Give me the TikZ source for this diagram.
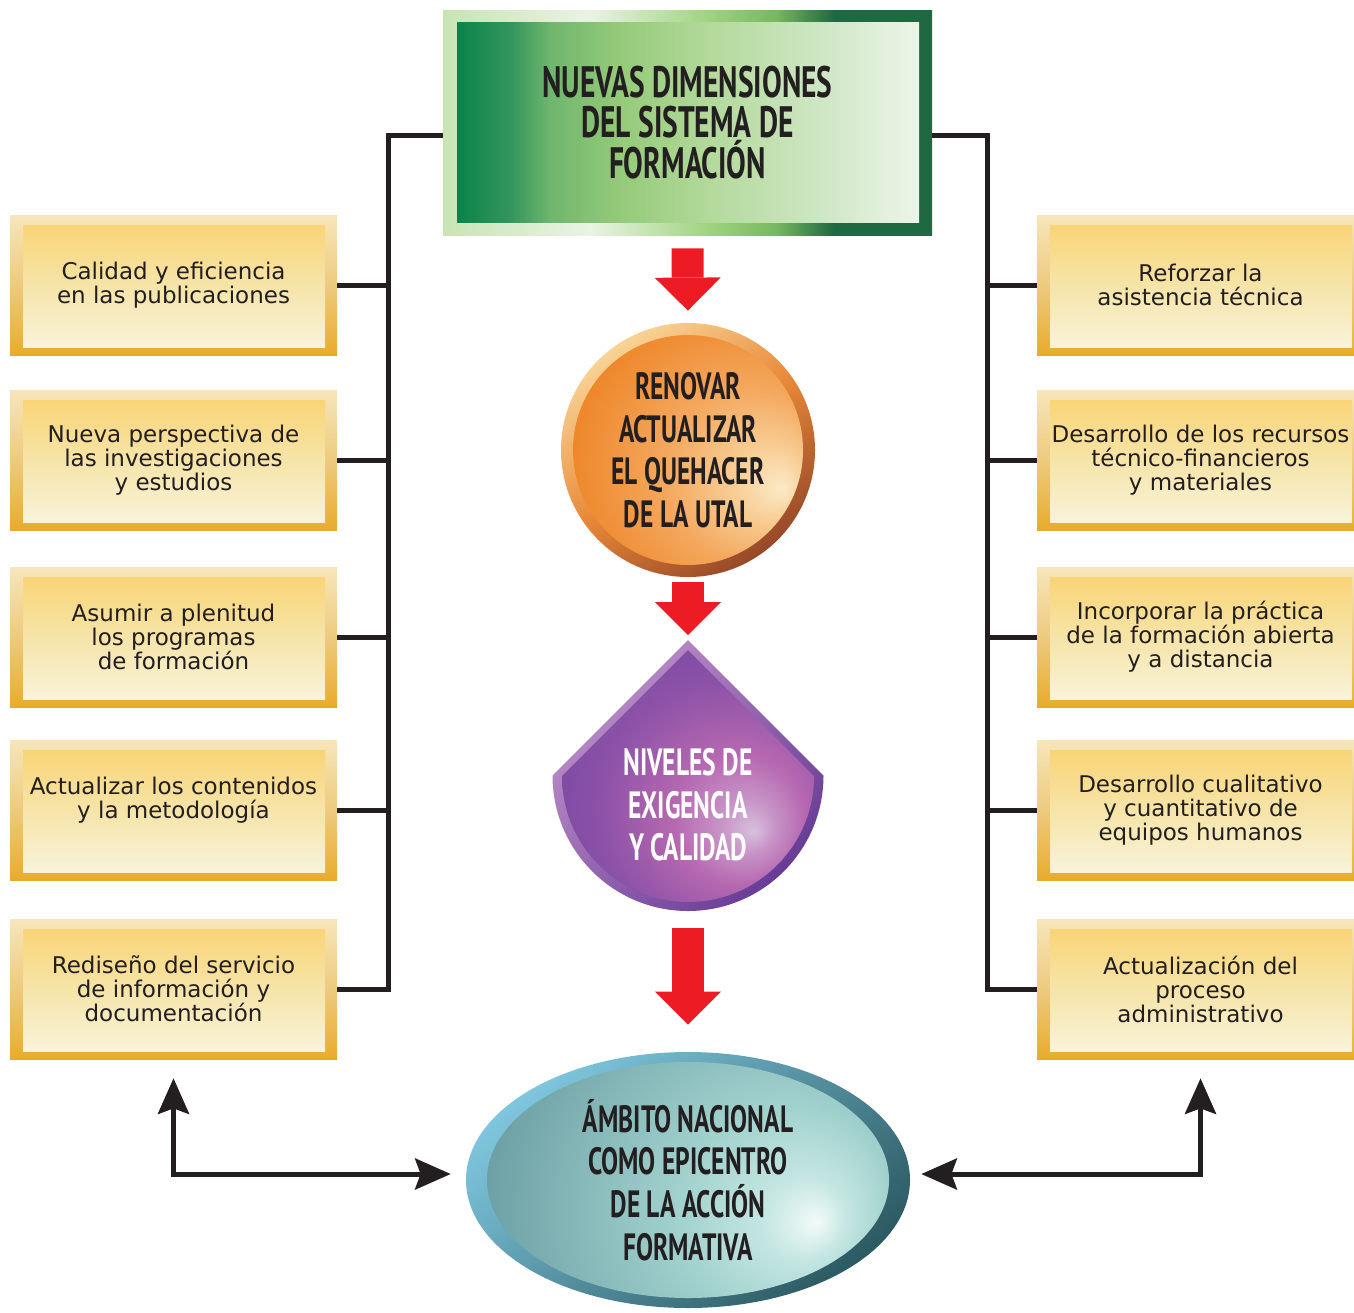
\documentclass[tikz,border=0pt]{standalone}
\usepackage{fontspec}
\setmainfont{DejaVu Sans}
\newfontfamily\headfont{PT Sans}[FakeStretch=0.67]
\usetikzlibrary{arrows.meta, shapes.geometric}

\definecolor{inkblack}{RGB}{35,31,32}
\definecolor{arrowred}{RGB}{237,28,36}
% yellow boxes
\definecolor{goldtop}{RGB}{246,230,186}
\definecolor{goldmid}{RGB}{238,202,126}
\definecolor{goldbot}{RGB}{232,172,44}
\definecolor{coretop}{RGB}{249,210,110}
\definecolor{coremid}{RGB}{246,228,168}
\definecolor{corebot}{RGB}{248,245,224}
% green title
\definecolor{frameA}{RGB}{200,228,180}
\definecolor{frameB}{RGB}{234,243,228}
\definecolor{frameC}{RGB}{160,212,128}
\definecolor{frameD}{RGB}{120,184,96}
\definecolor{frameE}{RGB}{30,104,66}
\definecolor{leafA}{RGB}{0,126,70}
\definecolor{leafB}{RGB}{52,150,92}
\definecolor{leafC}{RGB}{112,182,110}
\definecolor{leafD}{RGB}{148,202,120}
\definecolor{leafE}{RGB}{178,217,154}
\definecolor{leafF}{RGB}{208,231,198}
\definecolor{leafG}{RGB}{240,247,238}
% orange circle
\definecolor{ringtop}{RGB}{248,212,150}
\definecolor{ringmid}{RGB}{232,136,56}
\definecolor{ringbot}{RGB}{150,72,40}
\definecolor{orangeA}{RGB}{251,234,200}
\definecolor{orangeB}{RGB}{248,206,150}
\definecolor{orangeC}{RGB}{244,168,94}
\definecolor{orangeD}{RGB}{238,136,44}
\definecolor{orangeE}{RGB}{232,126,32}
% purple drop
\definecolor{plumtop}{RGB}{192,144,202}
\definecolor{plumbot}{RGB}{104,60,150}
\definecolor{plumA}{RGB}{216,192,222}
\definecolor{plumB}{RGB}{200,150,200}
\definecolor{plumC}{RGB}{182,104,176}
\definecolor{plumD}{RGB}{140,82,168}
\definecolor{plumE}{RGB}{106,60,154}
% teal ellipse
\definecolor{tealtop}{RGB}{126,198,222}
\definecolor{tealbot}{RGB}{44,90,98}
\definecolor{tealA}{RGB}{242,250,248}
\definecolor{tealB}{RGB}{196,230,226}
\definecolor{tealC}{RGB}{162,210,206}
\definecolor{tealD}{RGB}{130,180,182}
\definecolor{tealE}{RGB}{86,140,146}

% shadings: the path box covers 25bp..75bp
\pgfdeclarehorizontalshading{greenframe}{100bp}{color(0bp)=(frameA); color(25bp)=(frameA);
  color(40bp)=(frameB); color(52bp)=(frameC); color(59bp)=(frameD); color(65bp)=(frameE); color(100bp)=(frameE)}
\pgfdeclarehorizontalshading{greencore}{100bp}{color(0bp)=(leafA); color(25bp)=(leafA); color(32bp)=(leafB);
  color(36bp)=(leafC); color(43bp)=(leafD); color(52bp)=(leafE); color(64bp)=(leafF); color(75bp)=(leafG); color(100bp)=(leafG)}
\pgfdeclareradialshading{orangecore}{\pgfpoint{11bp}{-17bp}}{color(0bp)=(orangeA); color(7bp)=(orangeB);
  color(17bp)=(orangeC); color(30bp)=(orangeD); color(50bp)=(orangeE)}
\pgfdeclareradialshading{plumcore}{\pgfpoint{13bp}{-11bp}}{color(0bp)=(plumA); color(5bp)=(plumB);
  color(13bp)=(plumC); color(25bp)=(plumD); color(45bp)=(plumE); color(60bp)=(plumE)}
\pgfdeclareradialshading{tealcore}{\pgfpoint{10bp}{-17bp}}{color(0bp)=(tealA); color(6bp)=(tealB);
  color(15bp)=(tealC); color(28bp)=(tealD); color(45bp)=(tealE); color(60bp)=(tealE)}

\tikzset{
  ybox/.style={
    rectangle, minimum width=163.5pt, minimum height=70pt, inner sep=0pt,
    align=center, text=inkblack, font=\fontsize{11.5}{12}\selectfont,
    top color=goldtop, bottom color=goldbot, middle color=goldmid,
    path picture={\shade[top color=coretop, bottom color=corebot, middle color=coremid]
      ([xshift=6.5pt,yshift=4pt]path picture bounding box.south west) rectangle
      ([xshift=-6pt,yshift=-5pt]path picture bounding box.north east);}
  },
  headtxt/.style={align=center, text=inkblack,
    font=\headfont\bfseries\fontsize{19}{21.3}\selectfont},
  dimbox/.style={headtxt, rectangle, minimum width=244.5pt, minimum height=112.5pt,
    inner sep=0pt, shading=greenframe,
    font=\headfont\bfseries\fontsize{22}{20.3}\selectfont,
    path picture={\shade[shading=greencore]
      ([xshift=7pt,yshift=6.5pt]path picture bounding box.south west) rectangle
      ([xshift=-6.5pt,yshift=-6pt]path picture bounding box.north east);}
  },
  coin/.style={headtxt, circle, minimum size=127pt, inner sep=0pt,
    top color=ringtop, bottom color=ringbot, middle color=ringmid, shading angle=35,
    path picture={\shade[shading=orangecore]
      (path picture bounding box.center) circle[radius=57.5pt];}
  },
  oval/.style={headtxt, ellipse, minimum width=222pt, minimum height=128pt, inner sep=0pt,
    top color=tealtop, bottom color=tealbot, shading angle=40,
    path picture={\shade[shading=tealcore]
      (path picture bounding box.center) ellipse[x radius=100.5pt, y radius=59pt];}
  },
  link/.style={draw=inkblack, line width=2.5pt},
  duplex/.style={link, >={Stealth[length=18pt, width=16pt, inset=3pt, line width=0pt]}, <->},
  redarr/.style={draw=arrowred, line width=16pt,
    -{Triangle[length=16.5pt, width=33pt, line width=0pt]}}
}

\begin{document}
\begin{tikzpicture}[x=0.5pt, y=-0.5pt]
  \useasboundingbox (0,0) rectangle (1354,1312);

  % centre column
  \node[dimbox] (dims) at (687.5,122.5) {NUEVAS DIMENSIONES\\DEL SISTEMA DE\\FORMACIÓN};
  \node[coin] (quehacer) at (688,450) {RENOVAR\\ACTUALIZAR\\EL QUEHACER\\DE LA UTAL};

  \coordinate (droptip) at (688,640);
  \coordinate (dropbase) at (688,910);
  \shade[top color=plumtop, bottom color=plumbot, shading angle=45]
    (droptip) -- ++(-135.5,135.5) arc[start angle=180, end angle=0, radius=135.5] -- cycle;
  \shade[shading=plumcore]
    (688,650) -- ++(-126,126) arc[start angle=180, end angle=0, radius=126] -- cycle;
  \node[headtxt, text=white] (niveles) at (688,805) {NIVELES DE\\EXIGENCIA\\Y CALIDAD};

  \node[oval] (ambito) at (688,1180) {ÁMBITO NACIONAL\\COMO EPICENTRO\\DE LA ACCIÓN\\FORMATIVA};

  % left column
  \node[ybox] (l1) at (173.5,285) {Calidad y eficiencia\\en las publicaciones};
  \node[ybox] (l2) at (173.5,460) {Nueva perspectiva de\\las investigaciones\\y estudios};
  \node[ybox] (l3) at (173.5,637) {Asumir a plenitud\\los programas\\de formación};
  \node[ybox] (l4) at (173.5,810) {Actualizar los contenidos\\y la metodología\\\mbox{}};
  \node[ybox] (l5) at (173.5,989) {Rediseño del servicio\\de información y\\documentación};

  % right column
  \node[ybox] (r1) at (1200.5,285) {Reforzar la\\asistencia técnica};
  \node[ybox] (r2) at (1200.5,460) {Desarrollo de los recursos\\técnico-financieros\\y materiales};
  \node[ybox] (r3) at (1200.5,637) {Incorporar la práctica\\de la formación abierta\\y a distancia};
  \node[ybox] (r4) at (1200.5,810) {Desarrollo cualitativo\\y cuantitativo de\\equipos humanos};
  \node[ybox] (r5) at (1200.5,989) {Actualización del\\proceso\\administrativo};

  % buses
  \coordinate (lbus) at (388,135);
  \coordinate (rbus) at (987,135);
  \draw[link] (dims.west |- lbus) -- (lbus) |- (l5.east);
  \draw[link] (dims.east |- rbus) -- (rbus) |- (r5.west);
  \foreach \k in {1,...,4} {
    \draw[link] (l\k.east) -- (l\k.east -| lbus);
    \draw[link] (r\k.west) -- (r\k.west -| rbus);
  }

  % flow arrows
  \draw[redarr, shorten <=6.5pt, shorten >=6pt] (dims.south) -- (quehacer.north);
  \draw[redarr, shorten <=2.5pt, shorten >=2.5pt] (quehacer.south) -- (droptip);
  \draw[redarr, shorten <=9pt, shorten >=13.5pt] (dropbase) -- (ambito.north);

  \draw[duplex] ([yshift=-9.5pt]l5.south) |- ([xshift=-7.5pt,yshift=3pt]ambito.west);
  \draw[duplex] ([yshift=-9.5pt]r5.south) |- ([xshift=5.5pt,yshift=3pt]ambito.east);
\end{tikzpicture}
\end{document}
